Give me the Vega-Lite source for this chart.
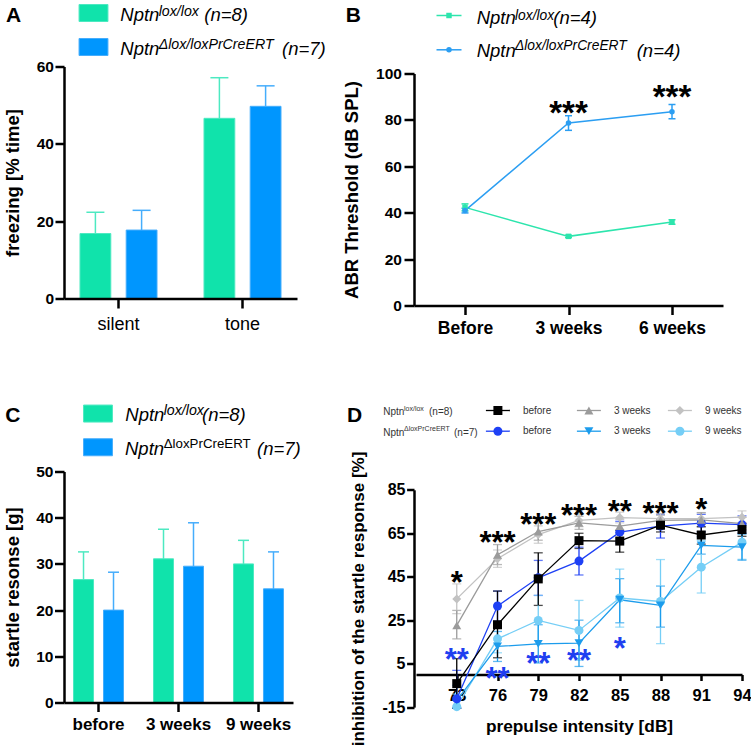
{
"$schema": "https://vega.github.io/schema/vega-lite/v6.json",
"background": "white",
"padding": {"left": 3, "top": 2.5, "right": 0, "bottom": 0},
"columns": 2,
"spacing": {"row": 166, "column": 117},
"bounds": "flush",
"resolve": {"scale": {"color": "independent", "fill": "independent", "stroke": "independent", "shape": "independent", "size": "independent", "xOffset": "independent"}},
"config": {
  "font": "Liberation Sans",
  "view": {"stroke": null},
  "axis": {"domainColor": "#000", "domainWidth": 2.5, "tickColor": "#000", "tickWidth": 2.5, "labelColor": "#000", "titleColor": "#000", "labelFontWeight": "bold", "titleFontWeight": "bold", "grid": false, "labelOverlap": false}
},
"datasets": {
  "freezing": [
    {"cond": "silent", "genotype": "lox", "value": 16.8, "hi": 22.3},
    {"cond": "silent", "genotype": "KO", "value": 17.7, "hi": 22.8},
    {"cond": "tone", "genotype": "lox", "value": 46.6, "hi": 57.1},
    {"cond": "tone", "genotype": "KO", "value": 49.7, "hi": 55.0}
  ],
  "abr": [
    {"time": "Before", "weeks": 0, "genotype": "lox", "value": 42.3, "lo": 40.8, "hi": 43.8},
    {"time": "3 weeks", "weeks": 3, "genotype": "lox", "value": 29.8, "lo": 29.3, "hi": 30.3},
    {"time": "6 weeks", "weeks": 6, "genotype": "lox", "value": 36.0, "lo": 35.0, "hi": 37.0},
    {"time": "Before", "weeks": 0, "genotype": "KO", "value": 40.9, "lo": 39.9, "hi": 41.9},
    {"time": "3 weeks", "weeks": 3, "genotype": "KO", "value": 78.7, "lo": 75.5, "hi": 81.8},
    {"time": "6 weeks", "weeks": 6, "genotype": "KO", "value": 83.5, "lo": 80.5, "hi": 86.6}
  ],
  "abrStars": [
    {"time": "3 weeks", "y": 86.7, "label": "***"},
    {"time": "6 weeks", "y": 93.4, "label": "***"}
  ],
  "startle": [
    {"time": "before", "genotype": "lox", "value": 26.6, "hi": 32.6},
    {"time": "before", "genotype": "KO", "value": 20.0, "hi": 28.2},
    {"time": "3 weeks", "genotype": "lox", "value": 31.1, "hi": 37.5},
    {"time": "3 weeks", "genotype": "KO", "value": 29.5, "hi": 38.9},
    {"time": "9 weeks", "genotype": "lox", "value": 30.0, "hi": 35.1},
    {"time": "9 weeks", "genotype": "KO", "value": 24.6, "hi": 32.6}
  ],
  "ppi": [
    {"series": "KO_9w", "db": 73, "value": -14.8, "lo": -15.5, "hi": -9},
    {"series": "KO_9w", "db": 76, "value": 16.4, "lo": 10, "hi": 22.8},
    {"series": "KO_9w", "db": 79, "value": 24.9, "lo": 14, "hi": 36.4},
    {"series": "KO_9w", "db": 82, "value": 20.3, "lo": 6.5, "hi": 34.1},
    {"series": "KO_9w", "db": 85, "value": 35.2, "lo": 21.8, "hi": 48.5},
    {"series": "KO_9w", "db": 88, "value": 33.6, "lo": 14.2, "hi": 52.9},
    {"series": "KO_9w", "db": 91, "value": 49.4, "lo": 37.5, "hi": 61.7},
    {"series": "KO_9w", "db": 94, "value": 60.9, "lo": 53, "hi": 68.8},
    {"series": "KO_3w", "db": 73, "value": -12, "lo": -15.5, "hi": -5},
    {"series": "KO_3w", "db": 76, "value": 12.9, "lo": 6, "hi": 19.8},
    {"series": "KO_3w", "db": 79, "value": 14.1, "lo": 5.3, "hi": 22.9},
    {"series": "KO_3w", "db": 82, "value": 14.4, "lo": 3.7, "hi": 25},
    {"series": "KO_3w", "db": 85, "value": 34.4, "lo": 23.8, "hi": 44.1},
    {"series": "KO_3w", "db": 88, "value": 31.8, "lo": 21.8, "hi": 40.7},
    {"series": "KO_3w", "db": 91, "value": 59.4, "lo": 55.4, "hi": 63.4},
    {"series": "KO_3w", "db": 94, "value": 58.6, "lo": 52.6, "hi": 64.6},
    {"series": "KO_before", "db": 73, "value": -11.2, "lo": -15.5, "hi": 1.9},
    {"series": "KO_before", "db": 76, "value": 31.5, "lo": 24.5, "hi": 38.4},
    {"series": "KO_before", "db": 79, "value": 44.5, "lo": 36.4, "hi": 52.5},
    {"series": "KO_before", "db": 82, "value": 52.2, "lo": 45.8, "hi": 58.6},
    {"series": "KO_before", "db": 85, "value": 65.5, "lo": 60.5, "hi": 70.5},
    {"series": "KO_before", "db": 88, "value": 68.3, "lo": 62.8, "hi": 73.8},
    {"series": "KO_before", "db": 91, "value": 69.7, "lo": 65.7, "hi": 73.7},
    {"series": "KO_before", "db": 94, "value": 69, "lo": 65, "hi": 73},
    {"series": "lox_9w", "db": 73, "value": 34.8, "lo": 28, "hi": 41.7},
    {"series": "lox_9w", "db": 76, "value": 53.3, "lo": 49.3, "hi": 57.3},
    {"series": "lox_9w", "db": 79, "value": 64.4, "lo": 60.4, "hi": 68.4},
    {"series": "lox_9w", "db": 82, "value": 70.9, "lo": 68, "hi": 73.8},
    {"series": "lox_9w", "db": 85, "value": 72.2, "lo": 69.8, "hi": 74.7},
    {"series": "lox_9w", "db": 88, "value": 71.7, "lo": 69.5, "hi": 74},
    {"series": "lox_9w", "db": 91, "value": 71.7, "lo": 69, "hi": 74.4},
    {"series": "lox_9w", "db": 94, "value": 72.4, "lo": 69.5, "hi": 75.3},
    {"series": "lox_3w", "db": 73, "value": 22.6, "lo": 16.4, "hi": 29.5},
    {"series": "lox_3w", "db": 76, "value": 55.1, "lo": 50.6, "hi": 59.8},
    {"series": "lox_3w", "db": 79, "value": 65.8, "lo": 61.8, "hi": 69.8},
    {"series": "lox_3w", "db": 82, "value": 69.8, "lo": 66.8, "hi": 72.8},
    {"series": "lox_3w", "db": 85, "value": 68.3, "lo": 65, "hi": 71.5},
    {"series": "lox_3w", "db": 88, "value": 70.9, "lo": 68.5, "hi": 73.3},
    {"series": "lox_3w", "db": 91, "value": 71.2, "lo": 68, "hi": 74.5},
    {"series": "lox_3w", "db": 94, "value": 69.4, "lo": 66.5, "hi": 72.3},
    {"series": "lox_before", "db": 73, "value": -4.2, "lo": -15.5, "hi": 7.3},
    {"series": "lox_before", "db": 76, "value": 22.9, "lo": 7.7, "hi": 38.4},
    {"series": "lox_before", "db": 79, "value": 44, "lo": 31.8, "hi": 56},
    {"series": "lox_before", "db": 82, "value": 61.6, "lo": 58, "hi": 65},
    {"series": "lox_before", "db": 85, "value": 61.4, "lo": 56.3, "hi": 66.3},
    {"series": "lox_before", "db": 88, "value": 68.7, "lo": 65.6, "hi": 71.6},
    {"series": "lox_before", "db": 91, "value": 64.2, "lo": 60, "hi": 68},
    {"series": "lox_before", "db": 94, "value": 66.7, "lo": 63.6, "hi": 69.6}
  ],
  "starsCtrl": [
    {"db": 73, "y": 46, "label": "*"},
    {"db": 76, "y": 64.4, "label": "***"},
    {"db": 79, "y": 72.4, "label": "***"},
    {"db": 82, "y": 76.6, "label": "***"},
    {"db": 85, "y": 78.6, "label": "**"},
    {"db": 88, "y": 77.5, "label": "***"},
    {"db": 91, "y": 79.5, "label": "*"}
  ],
  "starsKO": [
    {"db": 73, "y": 10.5, "label": "**"},
    {"db": 76, "y": 1.7, "label": "**"},
    {"db": 79, "y": 8.5, "label": "**"},
    {"db": 82, "y": 9.7, "label": "**"},
    {"db": 85, "y": 15.6, "label": "*"}
  ],
  "legA": [
    {"col": "c1", "row": "r1", "genotype": "lox", "gene": "Nptn", "allele": "lox/lox", "n": "(n=8)"},
    {"col": "c1", "row": "r2", "genotype": "KO", "gene": "Nptn", "allele": "Δlox/loxPrCreERT", "n": "(n=7)"}
  ],
  "legB": [
    {"col": "c1", "row": "r1", "genotype": "lox", "gene": "Nptn", "allele": "lox/lox", "n": "(n=4)"},
    {"col": "c1", "row": "r2", "genotype": "KO", "gene": "Nptn", "allele": "Δlox/loxPrCreERT", "n": "(n=4)"}
  ],
  "legC": [
    {"col": "c1", "row": "r1", "genotype": "lox", "gene": "Nptn", "allele": "lox/lox", "n": "(n=8)"},
    {"col": "c1", "row": "r2", "genotype": "KO", "gene": "Nptn", "allele": "ΔloxPrCreERT", "n": "(n=7)"}
  ],
  "legDsym": [
    {"col": "c1", "row": "r1", "series": "lox_before", "label": "before"},
    {"col": "c2", "row": "r1", "series": "lox_3w", "label": "3 weeks"},
    {"col": "c3", "row": "r1", "series": "lox_9w", "label": "9 weeks"},
    {"col": "c1", "row": "r2", "series": "KO_before", "label": "before"},
    {"col": "c2", "row": "r2", "series": "KO_3w", "label": "3 weeks"},
    {"col": "c3", "row": "r2", "series": "KO_9w", "label": "9 weeks"}
  ],
  "legDhead": [
    {"col": "c1", "row": "r1", "gene": "Nptn", "allele": "lox/lox", "n": "(n=8)"},
    {"col": "c1", "row": "r2", "gene": "Nptn", "allele": "ΔloxPrCreERT", "n": "(n=7)"}
  ]
},
"concat": [
  {
    "width": 233, "height": 232,
    "resolve": {"scale": {"x": "independent", "y": "independent", "color": "independent", "fill": "independent", "stroke": "independent"}, "axis": {"x": "independent", "y": "independent"}},
    "layer": [
      {
        "data": {"name": "freezing"},
        "encoding": {
          "x": {"field": "cond", "type": "nominal", "sort": ["silent", "tone"], "scale": {"paddingInner": 0.379, "paddingOuter": 0.129}, "axis": {"title": null, "labelAngle": 0, "labelFontWeight": "normal", "labelFontSize": 18, "tickSize": 9.5, "labelPadding": 7.5, "zindex": 1}},
          "xOffset": {"field": "genotype", "type": "nominal", "scale": {"domain": ["lox", "KO"], "paddingInner": 0.333, "paddingOuter": 0}},
          "y": {"field": "value", "type": "quantitative", "title": "freezing [% time]", "scale": {"domain": [0, 60], "nice": false}, "axis": {"values": [0, 20, 40, 60], "tickSize": 9, "labelPadding": 1.5, "labelFontSize": 15.5, "titleFontSize": 18.5, "titlePadding": 13.7, "zindex": 1}}
        },
        "layer": [
          {"mark": {"type": "rule", "strokeWidth": 1.5}, "encoding": {"y2": {"field": "hi"}, "stroke": {"field": "genotype", "type": "nominal", "scale": {"domain": ["lox", "KO"], "range": ["#4de9c1", "#45adfc"]}, "legend": null}}},
          {"mark": {"type": "tick", "orient": "horizontal", "size": 18, "thickness": 1.5, "opacity": 1}, "encoding": {"y": {"field": "hi", "type": "quantitative", "title": "freezing [% time]"}, "fill": {"field": "genotype", "type": "nominal", "scale": {"domain": ["lox", "KO"], "range": ["#4de9c1", "#45adfc"]}, "legend": null}}},
          {"mark": {"type": "bar", "strokeWidth": 1, "opacity": 1}, "encoding": {"color": {"field": "genotype", "type": "nominal", "scale": {"domain": ["lox", "KO"], "range": ["#10e3ab", "#0096fe"]}, "legend": null}, "stroke": {"field": "genotype", "type": "nominal", "legend": null}}}
        ]
      },
      {
        "data": {"name": "legA"},
        "encoding": {
          "x": {"field": "col", "type": "ordinal", "scale": {"type": "point", "domain": ["c1"], "range": [29.5, 29.5], "padding": 0}, "axis": null},
          "y": {"field": "row", "type": "ordinal", "scale": {"type": "point", "domain": ["r1", "r2"], "range": [-53.5, -19.5], "padding": 0}, "axis": null}
        },
        "layer": [
          {"mark": {"type": "point", "shape": "M-1.7,-1H1.7V1H-1.7Z", "size": 289, "filled": true, "opacity": 1, "strokeWidth": 1},
           "encoding": {"fill": {"field": "genotype", "type": "nominal", "scale": {"domain": ["lox", "KO"], "range": ["#10e3ab", "#0096fe"]}, "legend": null},
                        "stroke": {"field": "genotype", "type": "nominal", "scale": {"domain": ["lox", "KO"], "range": ["#4de9c1", "#45adfc"]}, "legend": null}}},
          {"transform": [{"filter": "datum.row === 'r1'"}], "mark": {"type": "text", "align": "left", "baseline": "alphabetic", "fontStyle": "italic", "fontSize": 18.5, "color": "#000", "dx": 26.8, "dy": 7.5}, "encoding": {"text": {"field": "gene"}}},
          {"transform": [{"filter": "datum.row === 'r2'"}], "mark": {"type": "text", "align": "left", "baseline": "alphabetic", "fontStyle": "italic", "fontSize": 18.5, "color": "#000", "dx": 26.8, "dy": 7.8}, "encoding": {"text": {"field": "gene"}}},
          {"transform": [{"filter": "datum.row === 'r1'"}], "mark": {"type": "text", "align": "left", "baseline": "alphabetic", "fontStyle": "italic", "fontSize": 14.2, "color": "#000", "dx": 65.2, "dy": 2.5}, "encoding": {"text": {"field": "allele"}}},
          {"transform": [{"filter": "datum.row === 'r2'"}], "mark": {"type": "text", "align": "left", "baseline": "alphabetic", "fontStyle": "italic", "fontSize": 14.2, "color": "#000", "dx": 65.2, "dy": 1.8}, "encoding": {"text": {"field": "allele"}}},
          {"transform": [{"filter": "datum.row === 'r1'"}], "mark": {"type": "text", "align": "left", "baseline": "alphabetic", "fontStyle": "italic", "fontSize": 18.5, "color": "#000", "dx": 110.8, "dy": 7.5}, "encoding": {"text": {"field": "n"}}},
          {"transform": [{"filter": "datum.row === 'r2'"}], "mark": {"type": "text", "align": "left", "baseline": "alphabetic", "fontStyle": "italic", "fontSize": 18.5, "color": "#000", "dx": 188.5, "dy": 7.8}, "encoding": {"text": {"field": "n"}}},
          {"data": {"values": [{"col": "c1", "row": "r1", "letter": "A"}]}, "mark": {"type": "text", "align": "center", "baseline": "alphabetic", "fontSize": 21, "fontWeight": "bold", "color": "#000", "dx": -80, "dy": 8.7}, "encoding": {"text": {"field": "letter"}}}
        ]
      }
    ]
  },
  {
    "width": 309, "height": 239,
    "resolve": {"scale": {"x": "independent", "y": "independent", "color": "independent", "shape": "independent"}, "axis": {"x": "independent", "y": "independent"}},
    "layer": [
      {
        "encoding": {
          "x": {"field": "time", "type": "ordinal", "sort": ["Before", "3 weeks", "6 weeks"], "scale": {"type": "point", "padding": 0.4928}, "axis": {"title": null, "labelAngle": 0, "labelFontSize": 17.5, "tickSize": 9, "labelPadding": 4.6}},
          "y": {"field": "value", "type": "quantitative", "title": "ABR Threshold (dB SPL)", "scale": {"domain": [0, 100], "nice": false, "range": [239, 7]}, "axis": {"values": [0, 20, 40, 60, 80, 100], "tickSize": 10, "labelPadding": 2.6, "labelFontSize": 15.5, "titleFontSize": 18.5, "titlePadding": 14.4}},
          "color": {"field": "genotype", "type": "nominal", "scale": {"domain": ["lox", "KO"], "range": ["#2de5ad", "#2b9ef2"]}, "legend": null}
        },
        "layer": [
          {"data": {"name": "abr"}, "mark": {"type": "rule", "strokeWidth": 1.5},
           "encoding": {"y": {"field": "lo", "type": "quantitative", "title": "ABR Threshold (dB SPL)"}, "y2": {"field": "hi"}}},
          {"data": {"name": "abr"}, "mark": {"type": "tick", "orient": "horizontal", "size": 7, "thickness": 1.5, "opacity": 1},
           "encoding": {"y": {"field": "lo", "type": "quantitative", "title": "ABR Threshold (dB SPL)"}}},
          {"data": {"name": "abr"}, "mark": {"type": "tick", "orient": "horizontal", "size": 7, "thickness": 1.5, "opacity": 1},
           "encoding": {"y": {"field": "hi", "type": "quantitative", "title": "ABR Threshold (dB SPL)"}}},
          {"data": {"name": "abr"}, "mark": {"type": "line", "strokeWidth": 1.5},
           "encoding": {"order": {"field": "weeks", "type": "quantitative"}}},
          {"data": {"name": "abr"}, "mark": {"type": "point", "filled": true, "opacity": 1, "size": 30},
           "encoding": {"shape": {"field": "genotype", "type": "nominal", "scale": {"domain": ["lox", "KO"], "range": ["square", "circle"]}, "legend": null}}},
          {"data": {"name": "abrStars"}, "mark": {"type": "text", "fontSize": 33, "fontWeight": "bold", "dy": 9.2},
           "encoding": {"y": {"field": "y", "type": "quantitative", "title": "ABR Threshold (dB SPL)"}, "text": {"field": "label"}, "color": {"value": "#000"}}}
        ]
      },
      {
        "data": {"name": "legB"},
        "encoding": {
          "x": {"field": "col", "type": "ordinal", "scale": {"type": "point", "domain": ["c1"], "range": [35, 35], "padding": 0}, "axis": null},
          "y": {"field": "row", "type": "ordinal", "scale": {"type": "point", "domain": ["r1", "r2"], "range": [-51, -16.7], "padding": 0}, "axis": null}
        },
        "layer": [
          {"mark": {"type": "tick", "orient": "horizontal", "size": 25, "thickness": 1.5, "opacity": 1}, "encoding": {"color": {"field": "genotype", "type": "nominal", "scale": {"domain": ["lox", "KO"], "range": ["#2de5ad", "#2b9ef2"]}, "legend": null}}},
          {"mark": {"type": "point", "filled": true, "opacity": 1, "size": 30}, "encoding": {"color": {"field": "genotype", "type": "nominal", "legend": null}, "shape": {"field": "genotype", "type": "nominal", "scale": {"domain": ["lox", "KO"], "range": ["square", "circle"]}, "legend": null}}},
          {"transform": [{"filter": "datum.row === 'r1'"}], "mark": {"type": "text", "align": "left", "baseline": "alphabetic", "fontStyle": "italic", "fontSize": 18.5, "color": "#000", "dx": 27.7, "dy": 8.2}, "encoding": {"text": {"field": "gene"}}},
          {"transform": [{"filter": "datum.row === 'r2'"}], "mark": {"type": "text", "align": "left", "baseline": "alphabetic", "fontStyle": "italic", "fontSize": 18.5, "color": "#000", "dx": 27.7, "dy": 7.2}, "encoding": {"text": {"field": "gene"}}},
          {"transform": [{"filter": "datum.row === 'r1'"}], "mark": {"type": "text", "align": "left", "baseline": "alphabetic", "fontStyle": "italic", "fontSize": 13.8, "color": "#000", "dx": 66, "dy": 4.2}, "encoding": {"text": {"field": "allele"}}},
          {"transform": [{"filter": "datum.row === 'r2'"}], "mark": {"type": "text", "align": "left", "baseline": "alphabetic", "fontStyle": "italic", "fontSize": 13.8, "color": "#000", "dx": 66, "dy": 0.6}, "encoding": {"text": {"field": "allele"}}},
          {"transform": [{"filter": "datum.row === 'r1'"}], "mark": {"type": "text", "align": "left", "baseline": "alphabetic", "fontStyle": "italic", "fontSize": 18.5, "color": "#000", "dx": 104.3, "dy": 8.2}, "encoding": {"text": {"field": "n"}}},
          {"transform": [{"filter": "datum.row === 'r2'"}], "mark": {"type": "text", "align": "left", "baseline": "alphabetic", "fontStyle": "italic", "fontSize": 18.5, "color": "#000", "dx": 187.7, "dy": 7.2}, "encoding": {"text": {"field": "n"}}},
          {"data": {"values": [{"col": "c1", "row": "r1", "letter": "B"}]}, "mark": {"type": "text", "align": "center", "baseline": "alphabetic", "fontSize": 21, "fontWeight": "bold", "color": "#000", "dx": -95.7, "dy": 6.2}, "encoding": {"text": {"field": "letter"}}}
        ]
      }
    ]
  },
  {
    "width": 229, "height": 231,
    "resolve": {"scale": {"x": "independent", "y": "independent", "color": "independent", "fill": "independent", "stroke": "independent"}, "axis": {"x": "independent", "y": "independent"}},
    "layer": [
      {
        "data": {"name": "startle"},
        "encoding": {
          "x": {"field": "time", "type": "nominal", "sort": ["before", "3 weeks", "9 weeks"], "scale": {"paddingInner": 0.375, "paddingOuter": 0.119}, "axis": {"title": null, "labelAngle": 0, "labelFontSize": 17, "tickSize": 9, "labelPadding": 4.6, "zindex": 1}},
          "xOffset": {"field": "genotype", "type": "nominal", "scale": {"domain": ["lox", "KO"], "paddingInner": 0.333, "paddingOuter": 0}},
          "y": {"field": "value", "type": "quantitative", "title": "startle resonse [g]", "scale": {"domain": [0, 50], "nice": false}, "axis": {"values": [0, 10, 20, 30, 40, 50], "tickSize": 9.5, "labelPadding": 1.5, "labelFontSize": 15.5, "titleFontSize": 18.5, "titlePadding": 13.4, "zindex": 1}}
        },
        "layer": [
          {"mark": {"type": "rule", "strokeWidth": 1.5}, "encoding": {"y2": {"field": "hi"}, "stroke": {"field": "genotype", "type": "nominal", "scale": {"domain": ["lox", "KO"], "range": ["#4de9c1", "#45adfc"]}, "legend": null}}},
          {"mark": {"type": "tick", "orient": "horizontal", "size": 11, "thickness": 1.5, "opacity": 1}, "encoding": {"y": {"field": "hi", "type": "quantitative", "title": "startle resonse [g]"}, "fill": {"field": "genotype", "type": "nominal", "scale": {"domain": ["lox", "KO"], "range": ["#4de9c1", "#45adfc"]}, "legend": null}}},
          {"mark": {"type": "bar", "strokeWidth": 1, "opacity": 1}, "encoding": {"color": {"field": "genotype", "type": "nominal", "scale": {"domain": ["lox", "KO"], "range": ["#10e3ab", "#0096fe"]}, "legend": null}, "stroke": {"field": "genotype", "type": "nominal", "legend": null}}}
        ]
      },
      {
        "data": {"name": "legC"},
        "encoding": {
          "x": {"field": "col", "type": "ordinal", "scale": {"type": "point", "domain": ["c1"], "range": [34, 34], "padding": 0}, "axis": null},
          "y": {"field": "row", "type": "ordinal", "scale": {"type": "point", "domain": ["r1", "r2"], "range": [-57.95, -24.25], "padding": 0}, "axis": null}
        },
        "layer": [
          {"mark": {"type": "point", "shape": "M-1.7,-1H1.7V1H-1.7Z", "size": 289, "filled": true, "opacity": 1, "strokeWidth": 1},
           "encoding": {"fill": {"field": "genotype", "type": "nominal", "scale": {"domain": ["lox", "KO"], "range": ["#10e3ab", "#0096fe"]}, "legend": null},
                        "stroke": {"field": "genotype", "type": "nominal", "scale": {"domain": ["lox", "KO"], "range": ["#4de9c1", "#45adfc"]}, "legend": null}}},
          {"transform": [{"filter": "datum.row === 'r1'"}], "mark": {"type": "text", "align": "left", "baseline": "alphabetic", "fontStyle": "italic", "fontSize": 18.5, "color": "#000", "dx": 27.3, "dy": 7.8}, "encoding": {"text": {"field": "gene"}}},
          {"transform": [{"filter": "datum.row === 'r2'"}], "mark": {"type": "text", "align": "left", "baseline": "alphabetic", "fontStyle": "italic", "fontSize": 18.5, "color": "#000", "dx": 27.0, "dy": 7.5}, "encoding": {"text": {"field": "gene"}}},
          {"transform": [{"filter": "datum.row === 'r1'"}], "mark": {"type": "text", "align": "left", "baseline": "alphabetic", "fontStyle": "italic", "fontSize": 14.2, "color": "#000", "dx": 65.7, "dy": 1.9}, "encoding": {"text": {"field": "allele"}}},
          {"transform": [{"filter": "datum.row === 'r2'"}], "mark": {"type": "text", "align": "left", "baseline": "alphabetic", "fontSize": 13.3, "color": "#000", "dx": 65.7, "dy": 1.0}, "encoding": {"text": {"field": "allele"}}},
          {"transform": [{"filter": "datum.row === 'r1'"}], "mark": {"type": "text", "align": "left", "baseline": "alphabetic", "fontStyle": "italic", "fontSize": 18.5, "color": "#000", "dx": 104, "dy": 7.8}, "encoding": {"text": {"field": "n"}}},
          {"transform": [{"filter": "datum.row === 'r2'"}], "mark": {"type": "text", "align": "left", "baseline": "alphabetic", "fontStyle": "italic", "fontSize": 18.5, "color": "#000", "dx": 159, "dy": 7.5}, "encoding": {"text": {"field": "n"}}},
          {"data": {"values": [{"col": "c1", "row": "r1", "letter": "C"}]}, "mark": {"type": "text", "align": "center", "baseline": "alphabetic", "fontSize": 21, "fontWeight": "bold", "color": "#000", "dx": -85.2, "dy": 8.7}, "encoding": {"text": {"field": "letter"}}}
        ]
      }
    ]
  },
  {
    "width": 328, "height": 203,
    "resolve": {"scale": {"x": "independent", "y": "independent", "color": "independent", "shape": "independent", "size": "independent"}, "axis": {"x": "independent", "y": "independent"}},
    "layer": [
      {
        "encoding": {
          "x": {"field": "db", "type": "quantitative", "scale": {"domain": [70, 94], "nice": false, "zero": false, "range": [2, 328]}, "axis": {"values": [73, 76, 79, 82, 85, 88, 91, 94], "title": "prepulse intensity [dB]", "tickSize": 6, "labelPadding": 7, "labelFontSize": 16.5, "titleFontSize": 17.3, "titlePadding": 13, "labelFlush": false}}
        },
        "layer": [
          {"data": {"name": "ppi"}, "mark": {"type": "errorbar", "ticks": true, "size": 9, "thickness": 1.3},
           "encoding": {"y": {"field": "lo", "type": "quantitative", "title": "inhibition of the startle response [%]", "scale": {"domain": [-15, 85], "nice": false, "zero": false, "range": [235.6, 18.3]}},
                        "y2": {"field": "hi"},
                        "color": {"field": "series", "type": "nominal", "scale": {"domain": ["lox_before", "lox_3w", "lox_9w", "KO_before", "KO_3w", "KO_9w"], "range": ["#000000", "#9b9b9b", "#c2c2c2", "#1e40f5", "#1c9cec", "#75cef6"]}, "legend": null}}},
          {"data": {"name": "ppi"}, "mark": {"type": "line", "strokeWidth": 1.3},
           "encoding": {"y": {"field": "value", "type": "quantitative", "title": "inhibition of the startle response [%]", "scale": {"domain": [-15, 85], "nice": false, "zero": false, "range": [235.6, 18.3]}, "axis": {"values": [-15, -5, 5, 15, 25, 35, 45, 55, 65, 75, 85], "labelExpr": "datum.value + ''", "tickSize": 7.4, "labelPadding": 1.6, "labelFontSize": 16, "titleFontSize": 17, "titlePadding": 14.7, "labelFlush": false}},
                        "color": {"field": "series", "type": "nominal", "legend": null}}},
          {"data": {"name": "ppi"}, "mark": {"type": "point", "filled": true, "opacity": 1, "strokeWidth": 0},
           "encoding": {"y": {"field": "value", "type": "quantitative", "title": "inhibition of the startle response [%]"},
                        "color": {"field": "series", "type": "nominal", "legend": null},
                        "shape": {"field": "series", "type": "nominal", "scale": {"domain": ["lox_before", "lox_3w", "lox_9w", "KO_before", "KO_3w", "KO_9w"], "range": ["square", "triangle-up", "diamond", "circle", "triangle-down", "circle"]}, "legend": null},
                        "size": {"field": "series", "type": "nominal", "scale": {"domain": ["lox_before", "lox_3w", "lox_9w", "KO_before", "KO_3w", "KO_9w"], "range": [81, 81, 50, 81, 81, 120]}, "legend": null}}},
          {"data": {"name": "starsCtrl"}, "mark": {"type": "text", "fontSize": 31, "fontWeight": "bold", "color": "#000", "dy": 9},
           "encoding": {"y": {"field": "y", "type": "quantitative", "title": "inhibition of the startle response [%]"}, "text": {"field": "label"}}},
          {"data": {"name": "starsKO"}, "mark": {"type": "text", "fontSize": 31, "fontWeight": "bold", "color": "#1f3ff0", "dy": 9},
           "encoding": {"y": {"field": "y", "type": "quantitative", "title": "inhibition of the startle response [%]"}, "text": {"field": "label"}}}
        ]
      },
      {
        "encoding": {
          "x": {"field": "col", "type": "ordinal", "scale": {"type": "point", "domain": ["c1", "c2", "c3"], "range": [83.9, 265.9], "padding": 0}, "axis": null},
          "y": {"field": "row", "type": "ordinal", "scale": {"type": "point", "domain": ["r1", "r2"], "range": [-61, -40.3], "padding": 0}, "axis": null}
        },
        "layer": [
          {"data": {"name": "legDsym"}, "mark": {"type": "tick", "orient": "horizontal", "size": 24, "thickness": 1.3, "opacity": 1},
           "encoding": {"color": {"field": "series", "type": "nominal", "scale": {"domain": ["lox_before", "lox_3w", "lox_9w", "KO_before", "KO_3w", "KO_9w"], "range": ["#000000", "#9b9b9b", "#c2c2c2", "#1e40f5", "#1c9cec", "#75cef6"]}, "legend": null}}},
          {"data": {"name": "legDsym"}, "mark": {"type": "point", "filled": true, "opacity": 1, "strokeWidth": 0},
           "encoding": {"color": {"field": "series", "type": "nominal", "legend": null},
                        "shape": {"field": "series", "type": "nominal", "scale": {"domain": ["lox_before", "lox_3w", "lox_9w", "KO_before", "KO_3w", "KO_9w"], "range": ["square", "triangle-up", "diamond", "circle", "triangle-down", "circle"]}, "legend": null},
                        "size": {"field": "series", "type": "nominal", "scale": {"domain": ["lox_before", "lox_3w", "lox_9w", "KO_before", "KO_3w", "KO_9w"], "range": [81, 81, 50, 81, 81, 120]}, "legend": null}}},
          {"data": {"name": "legDsym"}, "mark": {"type": "text", "align": "left", "baseline": "middle", "fontSize": 10, "color": "#333", "dx": 25}, "encoding": {"text": {"field": "label"}}},
          {"data": {"name": "legDhead"}, "mark": {"type": "text", "align": "left", "baseline": "alphabetic", "fontSize": 10, "color": "#333", "dx": -114.6, "dy": 4.3}, "encoding": {"text": {"field": "gene"}}},
          {"data": {"name": "legDhead"}, "mark": {"type": "text", "align": "left", "baseline": "alphabetic", "fontSize": 7, "color": "#333", "dx": -93.9, "dy": 0}, "encoding": {"text": {"field": "allele"}}},
          {"data": {"name": "legDhead"}, "transform": [{"filter": "datum.row === 'r1'"}], "mark": {"type": "text", "align": "left", "baseline": "alphabetic", "fontSize": 10, "color": "#333", "dx": -68.9, "dy": 4.3}, "encoding": {"text": {"field": "n"}}},
          {"data": {"name": "legDhead"}, "transform": [{"filter": "datum.row === 'r2'"}], "mark": {"type": "text", "align": "left", "baseline": "alphabetic", "fontSize": 10, "color": "#333", "dx": -43.9, "dy": 4.3}, "encoding": {"text": {"field": "n"}}},
          {"data": {"values": [{"col": "c1", "row": "r1", "letter": "D"}]}, "mark": {"type": "text", "align": "center", "baseline": "alphabetic", "fontSize": 21, "fontWeight": "bold", "color": "#000", "dx": -143.2, "dy": 11.7}, "encoding": {"text": {"field": "letter"}}}
        ]
      }
    ]
  }
]
}
